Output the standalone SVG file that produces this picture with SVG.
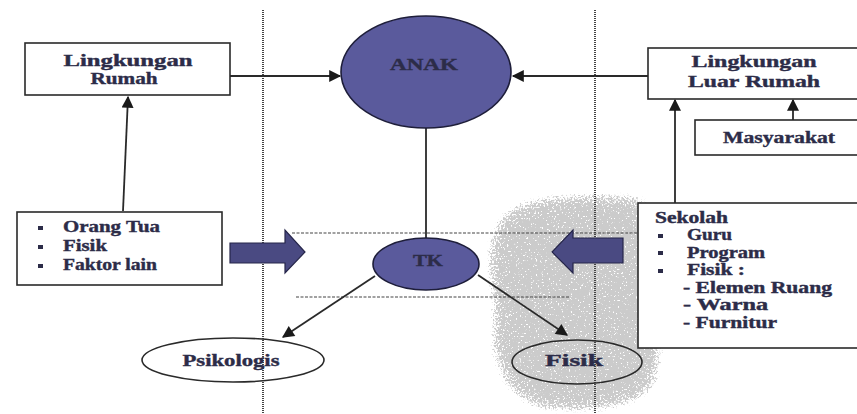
<svg xmlns="http://www.w3.org/2000/svg" width="857" height="414" viewBox="0 0 857 414">
<style>
.box{fill:#fff;stroke:#2a2a2a;stroke-width:1.6}
.ell{fill:#5a5a9c;stroke:#1e1e3a;stroke-width:1.6}
.oval{fill:none;stroke:#2a2a2a;stroke-width:1.6}
.t{font-family:"Liberation Serif",serif;font-weight:bold;font-size:17px;fill:#2c2c48;stroke:#2c2c48;stroke-width:0.4}
.s{font-size:16px}
.c{text-anchor:middle}
.ln{stroke:#2a2a2a;stroke-width:1.8;fill:none}
.dot{stroke:#444;stroke-width:2;stroke-dasharray:1 1;fill:none}
.dash{stroke:#444;stroke-width:1.2;stroke-dasharray:3 1.5;fill:none}
.blk{fill:#4a4a82;stroke:#26264a;stroke-width:1.2}
.bul{fill:#2c2c48}
</style>
<defs>
<marker id="ah" viewBox="0 0 10 10" refX="9" refY="5" markerWidth="13" markerHeight="12" orient="auto" markerUnits="userSpaceOnUse">
<path d="M0,0 L10,5 L0,10 z" fill="#1a1a1a"/>
</marker>
<filter id="speckle" x="-20%" y="-20%" width="140%" height="140%">
<feTurbulence type="fractalNoise" baseFrequency="0.55" numOctaves="3" seed="5" result="n"/>
<feColorMatrix in="n" type="matrix" values="0 0 0 0 0.6  0 0 0 0 0.6  0 0 0 0 0.6  1.3 0 0 0 0" result="nm"/>
<feGaussianBlur in="SourceAlpha" stdDeviation="10" result="b"/>
<feComposite in="nm" in2="b" operator="in" result="m"/>
<feComponentTransfer in="m">
<feFuncA type="linear" slope="9" intercept="-3"/>
</feComponentTransfer>
</filter>
</defs>
<g id="smudge">
<path d="M505,212 C530,195 585,192 648,198 L656,260 C664,300 664,340 654,388 C630,410 580,414 540,408 C506,398 488,360 494,320 C498,290 474,255 505,212 z" fill="#999" filter="url(#speckle)"/>
</g>
<g id="guides">
<line class="dot" x1="263" y1="10" x2="263" y2="414"/>
<line class="dot" x1="595" y1="10" x2="595" y2="414"/>
<line class="dash" x1="292" y1="233" x2="640" y2="233"/>
<line class="dash" x1="296" y1="297" x2="570" y2="297"/>
</g>
<g id="connectors">
<line class="ln" x1="213" y1="76" x2="340" y2="76" marker-end="url(#ah)"/>
<line class="ln" x1="650" y1="76" x2="513" y2="76" marker-end="url(#ah)"/>
<line class="ln" x1="123" y1="211" x2="128" y2="97" marker-end="url(#ah)"/>
<line class="ln" x1="675" y1="203" x2="675" y2="100" marker-end="url(#ah)"/>
<line class="ln" x1="793" y1="120" x2="793" y2="100" marker-end="url(#ah)"/>
<line class="ln" x1="426" y1="128" x2="426" y2="238"/>
<line class="ln" x1="375" y1="276" x2="283" y2="337" marker-end="url(#ah)"/>
<line class="ln" x1="478" y1="275" x2="567" y2="335" marker-end="url(#ah)"/>
<path class="blk" d="M230,243 L285,243 L285,230 L305,252 L285,273 L285,263 L230,263 z"/>
<path class="blk" d="M623,238 L573,238 L573,230 L552,252 L573,273 L573,263 L623,263 z"/>
</g>
<g id="rumah">
<rect class="box" x="25" y="43" width="205" height="52"/>
<text class="t c" x="128" y="66" textLength="129" lengthAdjust="spacingAndGlyphs">Lingkungan</text>
<text class="t c" x="124" y="84" textLength="67" lengthAdjust="spacingAndGlyphs">Rumah</text>
</g>
<g id="anak">
<ellipse class="ell" cx="426" cy="72" rx="85" ry="56"/>
<text class="t c" x="424" y="70" textLength="68" lengthAdjust="spacingAndGlyphs">ANAK</text>
</g>
<g id="luar">
<rect class="box" x="648" y="48" width="215" height="51"/>
<text class="t c" x="754" y="67" textLength="125" lengthAdjust="spacingAndGlyphs">Lingkungan</text>
<text class="t c" x="754" y="87" textLength="132" lengthAdjust="spacingAndGlyphs">Luar Rumah</text>
</g>
<g id="masyarakat">
<rect class="box" x="695" y="120" width="168" height="35"/>
<text class="t c" x="779" y="143" textLength="112" lengthAdjust="spacingAndGlyphs">Masyarakat</text>
</g>
<g id="orangtua">
<rect class="box" x="17" y="212" width="205" height="73"/>
<rect class="bul" x="38" y="226" width="5" height="4"/>
<rect class="bul" x="38" y="245" width="5" height="4"/>
<rect class="bul" x="38" y="264" width="5" height="4"/>
<text class="t" x="63" y="232" textLength="97" lengthAdjust="spacingAndGlyphs">Orang Tua</text>
<text class="t" x="63" y="251" textLength="44" lengthAdjust="spacingAndGlyphs">Fisik</text>
<text class="t" x="63" y="270" textLength="94" lengthAdjust="spacingAndGlyphs">Faktor lain</text>
</g>
<g id="tk">
<ellipse class="ell" cx="426" cy="264" rx="53" ry="26"/>
<text class="t c s" x="428" y="266" textLength="30" lengthAdjust="spacingAndGlyphs">TK</text>
</g>
<g id="psikologis">
<ellipse class="oval" cx="233" cy="360" rx="91" ry="22"/>
<text class="t c" x="231" y="366" textLength="97" lengthAdjust="spacingAndGlyphs">Psikologis</text>
</g>
<g id="fisik">
<ellipse class="oval" cx="577" cy="362" rx="65" ry="22"/>
<text class="t c" x="574" y="366" textLength="58" lengthAdjust="spacingAndGlyphs">Fisik</text>
</g>
<g id="sekolah">
<rect class="box" x="638" y="203" width="225" height="145"/>
<text class="t s" x="655" y="223" textLength="73" lengthAdjust="spacingAndGlyphs">Sekolah</text>
<rect class="bul" x="658" y="234" width="5" height="4"/>
<rect class="bul" x="658" y="251" width="5" height="4"/>
<rect class="bul" x="658" y="269" width="5" height="4"/>
<text class="t s" x="687" y="240" textLength="45" lengthAdjust="spacingAndGlyphs">Guru</text>
<text class="t s" x="687" y="258" textLength="78" lengthAdjust="spacingAndGlyphs">Program</text>
<text class="t s" x="687" y="275" textLength="58" lengthAdjust="spacingAndGlyphs">Fisik :</text>
<text class="t s" x="683" y="293" textLength="149" lengthAdjust="spacingAndGlyphs">- Elemen Ruang</text>
<text class="t s" x="683" y="310" textLength="85" lengthAdjust="spacingAndGlyphs">- Warna</text>
<text class="t s" x="683" y="328" textLength="94" lengthAdjust="spacingAndGlyphs">- Furnitur</text>
</g>
</svg>
